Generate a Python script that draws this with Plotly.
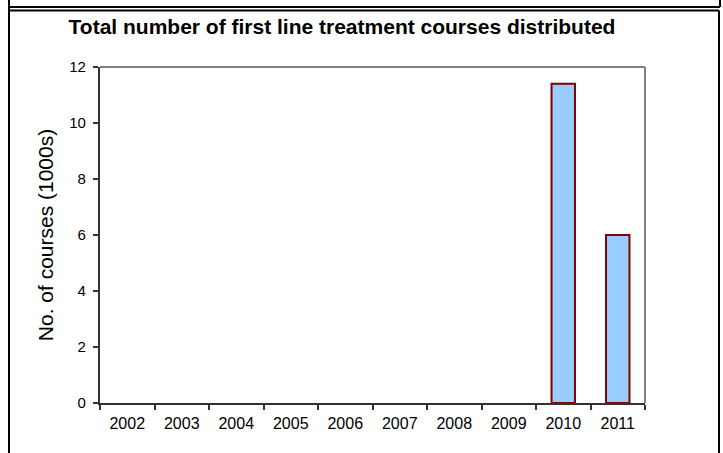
import plotly.graph_objects as go

years = ["2002", "2003", "2004", "2005", "2006", "2007", "2008", "2009", "2010", "2011"]
courses_thousands = [None, None, None, None, None, None, None, None, 11.4, 6.0]
y_ticks = [0, 2, 4, 6, 8, 10, 12]

W, H = 723, 453
L, R, T, B = 100, 645, 67, 403
pw, ph = R - L, B - T


def px(x):
    return (x - L) / pw


def py(y):
    return (B - y) / ph


fig = go.Figure()
fig.add_trace(go.Bar(
    x=years, y=courses_thousands, width=0.43,
    marker=dict(color="#99CCFF", line=dict(color="#800000", width=2)),
    hoverinfo="x+y",
))

font = "Liberation Sans, Arial, sans-serif"
shapes = []
# plot area frame (top & right gray)
shapes.append(dict(type="line", xref="paper", yref="paper", x0=0, x1=1, y0=1, y1=1,
                   line=dict(color="#808080", width=2)))
shapes.append(dict(type="line", xref="paper", yref="paper", x0=1, x1=1, y0=0, y1=1,
                   line=dict(color="#808080", width=2)))
# outer borders
bl = dict(color="black", width=2)
shapes.append(dict(type="line", xref="paper", yref="paper", x0=px(9), x1=px(9), y0=py(-5), y1=py(460), line=bl))
shapes.append(dict(type="line", xref="paper", yref="paper", x0=px(9), x1=px(720), y0=py(7), y1=py(7), line=bl))
shapes.append(dict(type="line", xref="paper", yref="paper", x0=px(720), x1=px(720), y0=py(-5), y1=py(7), line=bl))
shapes.append(dict(type="line", xref="paper", yref="paper", x0=px(9), x1=px(719), y0=py(10.5), y1=py(10.5), line=bl))
shapes.append(dict(type="line", xref="paper", yref="paper", x0=px(719), x1=px(719), y0=py(10.5), y1=py(460), line=bl))

fig.update_layout(
    width=W, height=H,
    margin=dict(l=L, r=W - R, t=T, b=H - B),
    paper_bgcolor="white", plot_bgcolor="white",
    showlegend=False,
    font=dict(family=font, color="black", size=15),
    title=dict(text="<b>Total number of first line treatment courses distributed</b>",
               x=px(342), xref="paper", xanchor="center",
               y=1 - 27 / H, yanchor="middle",
               font=dict(family=font, size=21, color="black")),
    xaxis=dict(type="category", range=[-0.5, 9.5], tickson="boundaries",
               ticks="outside", ticklen=5, tickcolor="#333333", tickwidth=1.5,
               showline=True, linecolor="#333333", linewidth=2,
               showgrid=False, zeroline=False, ticklabelstandoff=5,
               tickfont=dict(family=font, size=16, color="black")),
    yaxis=dict(range=[0, 12], tickvals=y_ticks,
               ticktext=[f"{v}\u00a0" for v in y_ticks],
               ticks="outside", ticklen=5, tickcolor="#333333", tickwidth=1.5,
               showline=True, linecolor="#333333", linewidth=2,
               showgrid=False, zeroline=False,
               tickfont=dict(family=font, size=15, color="black"),
               title=dict(text="No. of courses (1000s)", standoff=10,
                          font=dict(family=font, size=21, color="black"))),
    shapes=shapes,
    bargap=0.5,
)

fig.write_html("out.html", config={"displayModeBar": False},
               post_script="document.body.style.margin='0';document.body.style.padding='0';")
